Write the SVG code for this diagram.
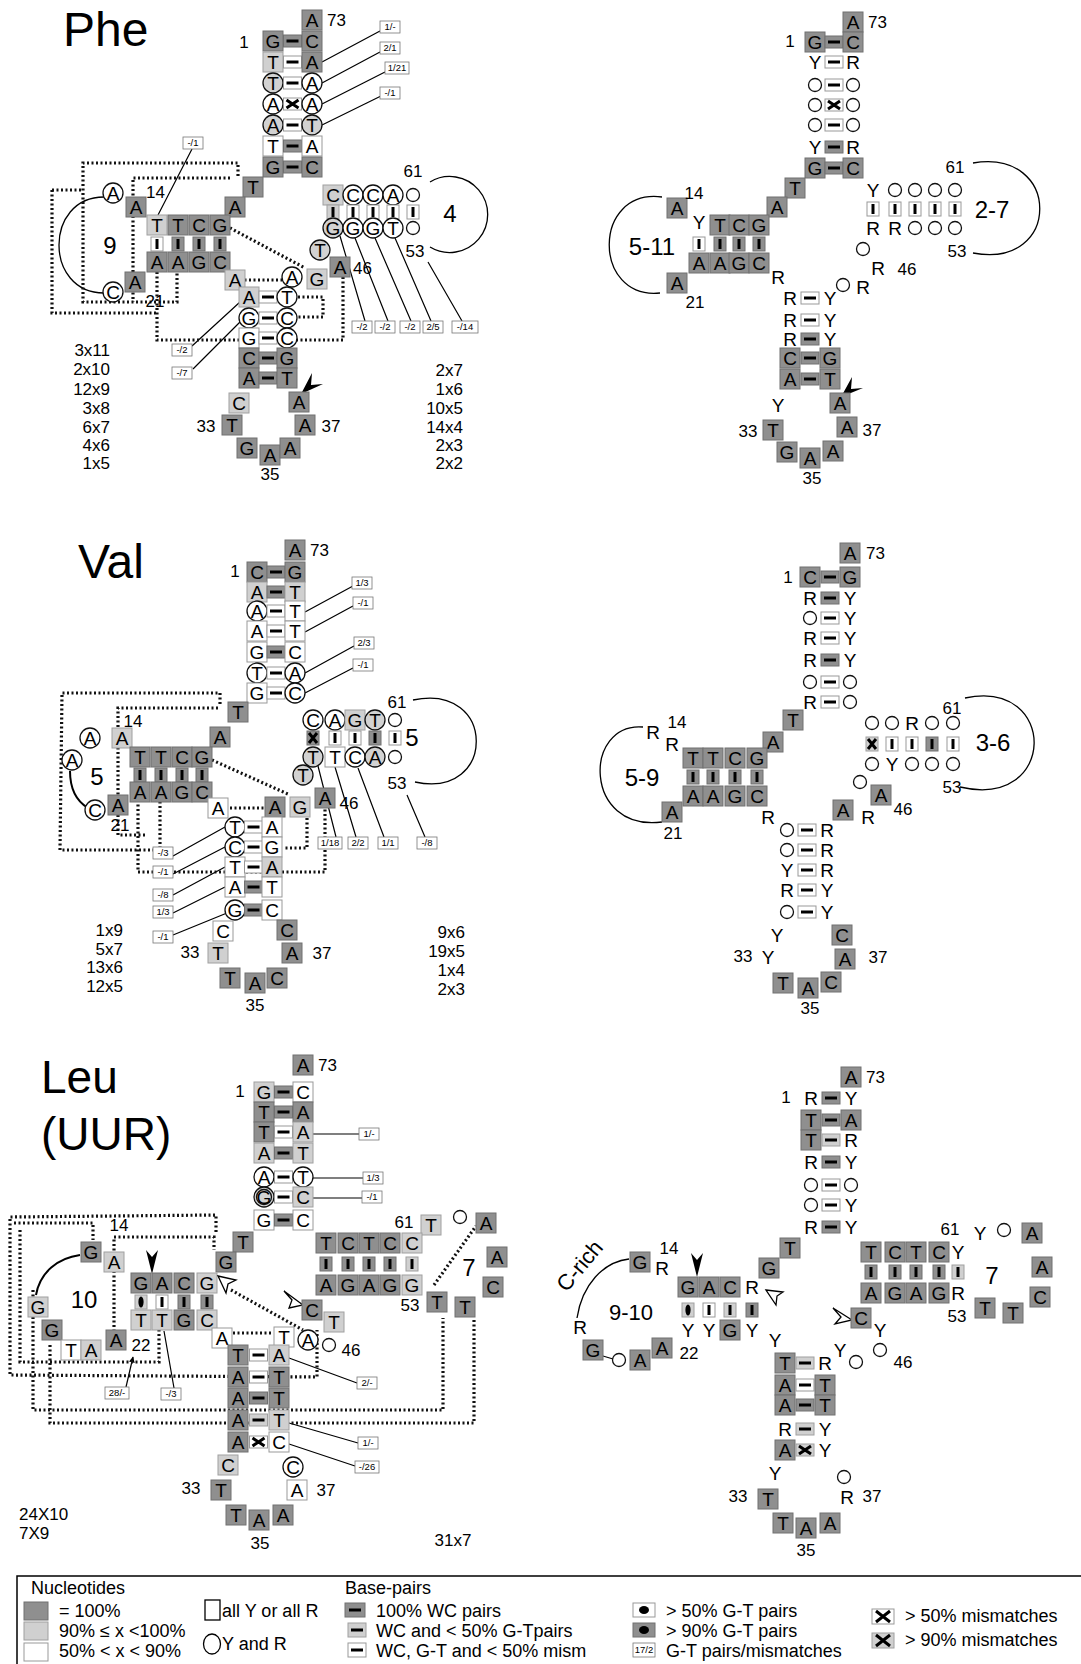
<svg xmlns="http://www.w3.org/2000/svg" width="1081" height="1664" viewBox="0 0 1081 1664">
<style>
text{font-family:"Liberation Sans",Arial,sans-serif;fill:#000}
.t{font-size:48px}
.b{font-size:19px;text-anchor:middle}
.n{font-size:17px}
.nm{font-size:17px;text-anchor:middle}
.ne{font-size:17px;text-anchor:end}
.big{font-size:24px;text-anchor:middle}
.s{font-size:9.5px;text-anchor:middle}
.lg{font-size:18px}
.d{fill:#8f8f8f;stroke:#707070;stroke-width:1}
.l{fill:#d0d0d0;stroke:#a0a0a0;stroke-width:1}
.w{fill:#fff;stroke:#999;stroke-width:1}
.c{fill:#fff;stroke:#111;stroke-width:1.3}
.cl{fill:#d2d2d2;stroke:#111;stroke-width:1.3}
.so{fill:none;stroke:#111;stroke-width:1.3}
.bar{stroke:#000;stroke-width:3;fill:none}
.lb{fill:#fff;stroke:#777;stroke-width:0.8}
.ln{stroke:#000;stroke-width:1.2;fill:none}
.arc{stroke:#000;stroke-width:1.3;fill:none}
.dash{stroke:#111;stroke-width:3.2;fill:none;stroke-dasharray:2 2.5}
.ha{fill:#fff;stroke:#000;stroke-width:1.3}
</style>
<defs>
<rect id="D" class="d" x="-10" y="-10" width="20" height="20"/>
<rect id="L" class="l" x="-10" y="-10" width="20" height="20"/>
<rect id="W" class="w" x="-10" y="-10" width="20" height="20"/>
<circle id="C" class="c" r="10"/>
<circle id="CL" class="cl" r="10"/>
<circle id="o" class="so" r="6.5"/>
<g id="hd"><rect class="d" x="-9" y="-6" width="18" height="12"/><line class="bar" x1="-6" y1="0" x2="6" y2="0"/></g>
<g id="hl"><rect class="l" x="-9" y="-6" width="18" height="12"/><line class="bar" x1="-6" y1="0" x2="6" y2="0"/></g>
<g id="hw"><rect class="w" x="-9" y="-6" width="18" height="12"/><line class="bar" x1="-6" y1="0" x2="6" y2="0"/></g>
<g id="hx"><rect class="w" x="-9" y="-6" width="18" height="12"/><path class="bar" d="M-6,-4L6,4M-6,4L6,-4"/></g>
<g id="hxl"><rect class="l" x="-9" y="-6" width="18" height="12"/><path class="bar" d="M-6,-4L6,4M-6,4L6,-4"/></g>
<g id="vd"><rect class="d" x="-6" y="-7" width="12" height="14"/><line class="bar" x1="0" y1="-5" x2="0" y2="5"/></g>
<g id="vl"><rect class="l" x="-6" y="-7" width="12" height="14"/><line class="bar" x1="0" y1="-5" x2="0" y2="5"/></g>
<g id="vw"><rect class="w" x="-6" y="-7" width="12" height="14"/><line class="bar" x1="0" y1="-5" x2="0" y2="5"/></g>
<g id="vxd"><rect class="d" x="-6" y="-7" width="12" height="14"/><path class="bar" d="M-4,-5L4,5M-4,5L4,-5"/></g>
<g id="vxl"><rect class="l" x="-6" y="-7" width="12" height="14"/><path class="bar" d="M-4,-5L4,5M-4,5L4,-5"/></g>
<g id="vel"><rect class="l" x="-6" y="-7" width="12" height="14"/><ellipse rx="2.6" ry="5.5" fill="#000"/></g>
<marker id="ah" viewBox="0 0 10 10" refX="9" refY="5" markerWidth="5" markerHeight="5" orient="auto"><path d="M0,0L10,5L0,10z"/></marker>
</defs>
<rect width="1081" height="1664" fill="#fff"/>

<!-- ================= PHE LEFT ================= -->
<g id="phe-l">
<text class="t" x="63" y="46">Phe</text>
<g id="phe-l-connectors">
<path class="ln" d="M322,62L380,31M322,83L380,52M322,104L385,72M322,125L381,96M192,149L158,215M192,346L240,302M193,369L240,322M340,236L365,321M355,238L388,321M375,238L411,321M395,238L431,321M428,262L462,321"/>
<path class="arc" d="M430,182A38,38 0 1 1 430,247"/>
<path class="arc" d="M104,197C44,197 44,293 104,293"/>
<path class="dash" d="M52,190L83,190M52,190L52,313L157,313M238,176L238,163L83,163L83,302L177,302L177,272M230,178L133,178L133,302M157,272L157,340L343,340L343,277M240,280L282,280M298,297L323,297L323,317L298,317M230,228L305,268"/>
</g>
<g id="phe-l-acceptor">
<use href="#D" x="312" y="20"/><text class="b" x="312" y="27">A</text>
<text class="n" x="327" y="26">73</text><text class="nm" x="244" y="48">1</text>
<use href="#D" x="273" y="41"/><text class="b" x="273" y="48">G</text><use href="#hd" x="292.5" y="41"/><use href="#D" x="312" y="41"/><text class="b" x="312" y="48">C</text>
<use href="#L" x="273" y="62"/><text class="b" x="273" y="69">T</text><use href="#hw" x="292.5" y="62"/><use href="#D" x="312" y="62"/><text class="b" x="312" y="69">A</text>
<use href="#CL" x="273" y="83"/><text class="b" x="273" y="90">T</text><use href="#hw" x="292.5" y="83"/><use href="#C" x="312" y="83"/><text class="b" x="312" y="90">A</text>
<use href="#C" x="273" y="104"/><text class="b" x="273" y="111">A</text><use href="#hx" x="292.5" y="104"/><use href="#C" x="312" y="104"/><text class="b" x="312" y="111">A</text>
<use href="#CL" x="273" y="125"/><text class="b" x="273" y="132">A</text><use href="#hw" x="292.5" y="125"/><use href="#CL" x="312" y="125"/><text class="b" x="312" y="132">T</text>
<use href="#W" x="273" y="146"/><text class="b" x="273" y="153">T</text><use href="#hd" x="292.5" y="146"/><use href="#W" x="312" y="146"/><text class="b" x="312" y="153">A</text>
<use href="#D" x="273" y="167"/><text class="b" x="273" y="174">G</text><use href="#hd" x="292.5" y="167"/><use href="#D" x="312" y="167"/><text class="b" x="312" y="174">C</text>
</g>
<g id="phe-l-labels">
<rect class="lb" x="380" y="21" width="20" height="12"/><text class="s" x="390" y="30">1/-</text>
<rect class="lb" x="380" y="42" width="20" height="12"/><text class="s" x="390" y="51">2/1</text>
<rect class="lb" x="385" y="62" width="24" height="12"/><text class="s" x="397" y="71">1/21</text>
<rect class="lb" x="380" y="87" width="20" height="12"/><text class="s" x="390" y="96">-/1</text>
<rect class="lb" x="183" y="137" width="20" height="12"/><text class="s" x="193" y="146">-/1</text>
<rect class="lb" x="172" y="344" width="20" height="12"/><text class="s" x="182" y="353">-/2</text>
<rect class="lb" x="172" y="367" width="20" height="12"/><text class="s" x="182" y="376">-/7</text>
<rect class="lb" x="352" y="321" width="20" height="12"/><text class="s" x="362" y="330">-/2</text>
<rect class="lb" x="375" y="321" width="20" height="12"/><text class="s" x="385" y="330">-/2</text>
<rect class="lb" x="400" y="321" width="20" height="12"/><text class="s" x="410" y="330">-/2</text>
<rect class="lb" x="423" y="321" width="20" height="12"/><text class="s" x="433" y="330">2/5</text>
<rect class="lb" x="452" y="321" width="26" height="12"/><text class="s" x="465" y="330">-/14</text>
</g>
<g id="phe-l-d">
<use href="#D" x="253" y="187"/><text class="b" x="253" y="194">T</text>
<use href="#D" x="235" y="207"/><text class="b" x="235" y="214">A</text>
<use href="#L" x="157" y="225"/><text class="b" x="157" y="232">T</text>
<use href="#D" x="178" y="225"/><text class="b" x="178" y="232">T</text>
<use href="#D" x="199" y="225"/><text class="b" x="199" y="232">C</text>
<use href="#D" x="220" y="225"/><text class="b" x="220" y="232">G</text>
<use href="#vw" x="157" y="244"/><use href="#vd" x="178" y="244"/><use href="#vd" x="199" y="244"/><use href="#vd" x="220" y="244"/>
<use href="#D" x="157" y="262"/><text class="b" x="157" y="269">A</text>
<use href="#D" x="178" y="262"/><text class="b" x="178" y="269">A</text>
<use href="#D" x="199" y="262"/><text class="b" x="199" y="269">G</text>
<use href="#D" x="220" y="262"/><text class="b" x="220" y="269">C</text>
<use href="#D" x="136" y="207"/><text class="b" x="136" y="214">A</text><text class="n" x="146" y="198">14</text>
<use href="#C" x="113" y="193"/><text class="b" x="113" y="200">A</text>
<use href="#C" x="113" y="292"/><text class="b" x="113" y="299">C</text>
<use href="#D" x="135" y="282"/><text class="b" x="135" y="289">A</text><text class="nm" x="155" y="307">21</text>
<text class="big" x="110" y="254">9</text>
</g>
<g id="phe-l-t">
<use href="#L" x="333" y="195"/><text class="b" x="333" y="202">C</text>
<use href="#C" x="353" y="195"/><text class="b" x="353" y="202">C</text>
<use href="#C" x="373" y="195"/><text class="b" x="373" y="202">C</text>
<use href="#C" x="393" y="195"/><text class="b" x="393" y="202">A</text>
<use href="#o" x="413" y="195"/>
<use href="#vl" x="333" y="212"/><use href="#vw" x="353" y="212"/><use href="#vw" x="373" y="212"/><use href="#vw" x="393" y="212"/><use href="#vw" x="413" y="212"/>
<use href="#CL" x="333" y="228"/><text class="b" x="333" y="235">G</text>
<use href="#C" x="353" y="228"/><text class="b" x="353" y="235">G</text>
<use href="#C" x="373" y="228"/><text class="b" x="373" y="235">G</text>
<use href="#C" x="393" y="228"/><text class="b" x="393" y="235">T</text>
<use href="#o" x="413" y="228"/>
<text class="nm" x="413" y="177">61</text><text class="nm" x="415" y="257">53</text><text class="big" x="450" y="222">4</text>
<use href="#CL" x="320" y="250"/><text class="b" x="320" y="257">T</text>
<use href="#D" x="340" y="267"/><text class="b" x="340" y="274">A</text><text class="n" x="353" y="274">46</text>
</g>
<g id="phe-l-ac">
<use href="#L" x="235" y="280"/><text class="b" x="235" y="287">A</text>
<use href="#C" x="292" y="277"/><text class="b" x="292" y="284">A</text>
<use href="#L" x="317" y="279"/><text class="b" x="317" y="286">G</text>
<use href="#L" x="249" y="297"/><text class="b" x="249" y="304">A</text><use href="#hw" x="268" y="297"/><use href="#C" x="287" y="297"/><text class="b" x="287" y="304">T</text>
<use href="#C" x="249" y="318"/><text class="b" x="249" y="325">G</text><use href="#hw" x="268" y="318"/><use href="#C" x="287" y="318"/><text class="b" x="287" y="325">C</text>
<use href="#W" x="249" y="338"/><text class="b" x="249" y="345">G</text><use href="#hw" x="268" y="338"/><use href="#C" x="287" y="338"/><text class="b" x="287" y="345">C</text>
<use href="#D" x="249" y="358"/><text class="b" x="249" y="365">C</text><use href="#hd" x="268" y="358"/><use href="#D" x="287" y="358"/><text class="b" x="287" y="365">G</text>
<use href="#D" x="249" y="378"/><text class="b" x="249" y="385">A</text><use href="#hd" x="268" y="378"/><use href="#D" x="287" y="378"/><text class="b" x="287" y="385">T</text>
<polygon points="301,394 312,373 311,385 323,384" fill="#000"/>
<use href="#L" x="239" y="403"/><text class="b" x="239" y="410">C</text>
<use href="#D" x="299" y="402"/><text class="b" x="299" y="409">A</text>
<use href="#D" x="232" y="425"/><text class="b" x="232" y="432">T</text>
<use href="#D" x="305" y="425"/><text class="b" x="305" y="432">A</text>
<use href="#D" x="247" y="448"/><text class="b" x="247" y="455">G</text>
<use href="#D" x="270" y="455"/><text class="b" x="270" y="462">A</text>
<use href="#D" x="290" y="448"/><text class="b" x="290" y="455">A</text>
<text class="nm" x="206" y="432">33</text><text class="nm" x="331" y="432">37</text><text class="nm" x="270" y="480">35</text>
</g>
<g id="phe-l-counts">
<text class="ne" x="110" y="356">3x11</text><text class="ne" x="110" y="375">2x10</text><text class="ne" x="110" y="395">12x9</text><text class="ne" x="110" y="414">3x8</text><text class="ne" x="110" y="433">6x7</text><text class="ne" x="110" y="451">4x6</text><text class="ne" x="110" y="469">1x5</text>
<text class="ne" x="463" y="376">2x7</text><text class="ne" x="463" y="395">1x6</text><text class="ne" x="463" y="414">10x5</text><text class="ne" x="463" y="433">14x4</text><text class="ne" x="463" y="451">2x3</text><text class="ne" x="463" y="469">2x2</text>
</g>
</g>

<!-- ================= PHE RIGHT ================= -->
<g id="phe-r">
<g id="phe-r-connectors">
<path class="arc" d="M973,163C1062,148 1062,270 973,253"/>
<path class="arc" d="M662,197C592,188 592,300 660,293"/>
</g>
<g id="phe-r-acceptor">
<use href="#D" x="853" y="22"/><text class="b" x="853" y="29">A</text><text class="n" x="868" y="28">73</text><text class="nm" x="790" y="47">1</text>
<use href="#D" x="815" y="42"/><text class="b" x="815" y="49">G</text><use href="#hd" x="834" y="42"/><use href="#D" x="853" y="42"/><text class="b" x="853" y="49">C</text>
<text class="b" x="815" y="69">Y</text><use href="#hw" x="834" y="62"/><text class="b" x="853" y="69">R</text>
<use href="#o" x="815" y="85"/><use href="#hw" x="834" y="85"/><use href="#o" x="853" y="85"/>
<use href="#o" x="815" y="105"/><use href="#hx" x="834" y="105"/><use href="#o" x="853" y="105"/>
<use href="#o" x="815" y="125"/><use href="#hw" x="834" y="125"/><use href="#o" x="853" y="125"/>
<text class="b" x="815" y="154">Y</text><use href="#hd" x="834" y="147"/><text class="b" x="853" y="154">R</text>
<use href="#D" x="815" y="168"/><text class="b" x="815" y="175">G</text><use href="#hd" x="834" y="168"/><use href="#D" x="853" y="168"/><text class="b" x="853" y="175">C</text>
</g>
<g id="phe-r-d">
<use href="#D" x="795" y="188"/><text class="b" x="795" y="195">T</text>
<use href="#D" x="777" y="207"/><text class="b" x="777" y="214">A</text>
<use href="#D" x="677" y="208"/><text class="b" x="677" y="215">A</text><text class="nm" x="694" y="199">14</text>
<text class="b" x="699" y="229">Y</text>
<use href="#D" x="720" y="225"/><text class="b" x="720" y="232">T</text>
<use href="#D" x="739" y="225"/><text class="b" x="739" y="232">C</text>
<use href="#D" x="759" y="225"/><text class="b" x="759" y="232">G</text>
<use href="#vw" x="699" y="244"/><use href="#vd" x="720" y="244"/><use href="#vd" x="739" y="244"/><use href="#vd" x="759" y="244"/>
<use href="#D" x="699" y="263"/><text class="b" x="699" y="270">A</text>
<use href="#D" x="720" y="263"/><text class="b" x="720" y="270">A</text>
<use href="#D" x="739" y="263"/><text class="b" x="739" y="270">G</text>
<use href="#D" x="759" y="263"/><text class="b" x="759" y="270">C</text>
<text class="big" x="652" y="255">5-11</text>
<use href="#D" x="677" y="283"/><text class="b" x="677" y="290">A</text><text class="nm" x="695" y="308">21</text>
<text class="b" x="778" y="284">R</text>
</g>
<g id="phe-r-t">
<text class="b" x="873" y="197">Y</text><use href="#o" x="895" y="190"/><use href="#o" x="915" y="190"/><use href="#o" x="935" y="190"/><use href="#o" x="955" y="190"/>
<use href="#vw" x="873" y="209"/><use href="#vw" x="895" y="209"/><use href="#vw" x="915" y="209"/><use href="#vw" x="935" y="209"/><use href="#vw" x="955" y="209"/>
<text class="b" x="873" y="235">R</text><text class="b" x="895" y="235">R</text><use href="#o" x="915" y="228"/><use href="#o" x="935" y="228"/><use href="#o" x="955" y="228"/>
<text class="nm" x="955" y="173">61</text><text class="nm" x="957" y="257">53</text><text class="big" x="992" y="218">2-7</text>
<use href="#o" x="863" y="249"/><text class="b" x="878" y="275">R</text><text class="nm" x="907" y="275">46</text>
<use href="#o" x="843" y="285"/><text class="b" x="863" y="294">R</text>
</g>
<g id="phe-r-ac">
<text class="b" x="790" y="305">R</text><use href="#hw" x="810" y="298"/><text class="b" x="830" y="305">Y</text>
<text class="b" x="790" y="327">R</text><use href="#hw" x="810" y="320"/><text class="b" x="830" y="327">Y</text>
<text class="b" x="790" y="346">R</text><use href="#hd" x="810" y="339"/><text class="b" x="830" y="346">Y</text>
<use href="#D" x="790" y="358"/><text class="b" x="790" y="365">C</text><use href="#hd" x="810" y="358"/><use href="#D" x="830" y="358"/><text class="b" x="830" y="365">G</text>
<use href="#D" x="790" y="379"/><text class="b" x="790" y="386">A</text><use href="#hd" x="810" y="379"/><use href="#D" x="830" y="379"/><text class="b" x="830" y="386">T</text>
<polygon points="841,397 852,377 851,389 863,388" fill="#000"/>
<text class="b" x="778" y="412">Y</text>
<use href="#D" x="840" y="403"/><text class="b" x="840" y="410">A</text>
<use href="#D" x="773" y="430"/><text class="b" x="773" y="437">T</text>
<use href="#D" x="847" y="427"/><text class="b" x="847" y="434">A</text>
<use href="#D" x="787" y="452"/><text class="b" x="787" y="459">G</text>
<use href="#D" x="810" y="458"/><text class="b" x="810" y="465">A</text>
<use href="#D" x="833" y="451"/><text class="b" x="833" y="458">A</text>
<text class="nm" x="748" y="437">33</text><text class="nm" x="872" y="436">37</text><text class="nm" x="812" y="484">35</text>
</g>
</g>

<!-- ================= VAL LEFT ================= -->
<g id="val-l">
<text class="t" x="78" y="578">Val</text>
<g id="val-l-connectors">
<path class="ln" d="M305,612L353,586M305,632L353,606M305,673L354,646M305,693L353,668M173,856L225,827M173,874L225,847M173,895L225,867M173,913L225,887M173,935L227,913M318,766L336,837M335,767L356,837M358,768L384,837M407,795L425,837"/>
<path class="arc" d="M413,700C497,682 497,800 415,782"/>
<path d="M70,771C70,790 78,802 88,808" fill="none" stroke="#000" stroke-width="2"/>
<path class="dash" d="M220,704L220,693L62,693L60,850L160,850L160,800M218,708L118,708L118,835L145,835M138,800L138,872L325,872L325,790M212,760L290,795M230,808L264,808M307,818L307,848L283,848"/>
</g>
<g id="val-l-acceptor">
<use href="#D" x="295" y="550"/><text class="b" x="295" y="557">A</text><text class="n" x="310" y="556">73</text><text class="nm" x="235" y="577">1</text>
<use href="#D" x="257" y="572"/><text class="b" x="257" y="579">C</text><use href="#hd" x="276" y="572"/><use href="#D" x="295" y="572"/><text class="b" x="295" y="579">G</text>
<use href="#L" x="257" y="592"/><text class="b" x="257" y="599">A</text><use href="#hd" x="276" y="592"/><use href="#L" x="295" y="592"/><text class="b" x="295" y="599">T</text>
<use href="#C" x="257" y="611"/><text class="b" x="257" y="618">A</text><use href="#hw" x="276" y="611"/><use href="#W" x="295" y="611"/><text class="b" x="295" y="618">T</text>
<use href="#W" x="257" y="631"/><text class="b" x="257" y="638">A</text><use href="#hw" x="276" y="631"/><use href="#W" x="295" y="631"/><text class="b" x="295" y="638">T</text>
<use href="#W" x="257" y="652"/><text class="b" x="257" y="659">G</text><use href="#hd" x="276" y="652"/><use href="#W" x="295" y="652"/><text class="b" x="295" y="659">C</text>
<use href="#C" x="257" y="673"/><text class="b" x="257" y="680">T</text><use href="#hw" x="276" y="673"/><use href="#C" x="295" y="673"/><text class="b" x="295" y="680">A</text>
<use href="#W" x="257" y="693"/><text class="b" x="257" y="700">G</text><use href="#hw" x="276" y="693"/><use href="#C" x="295" y="693"/><text class="b" x="295" y="700">C</text>
<rect class="lb" x="352" y="577" width="20" height="12"/><text class="s" x="362" y="586">1/3</text>
<rect class="lb" x="353" y="597" width="20" height="12"/><text class="s" x="363" y="606">-/1</text>
<rect class="lb" x="354" y="637" width="20" height="12"/><text class="s" x="364" y="646">2/3</text>
<rect class="lb" x="353" y="659" width="20" height="12"/><text class="s" x="363" y="668">-/1</text>
</g>
<g id="val-l-d">
<use href="#D" x="238" y="712"/><text class="b" x="238" y="719">T</text>
<use href="#D" x="220" y="737"/><text class="b" x="220" y="744">A</text>
<text class="nm" x="133" y="727">14</text>
<use href="#L" x="122" y="738"/><text class="b" x="122" y="745">A</text>
<use href="#C" x="90" y="738"/><text class="b" x="90" y="745">A</text>
<use href="#C" x="72" y="760"/><text class="b" x="72" y="767">A</text>
<text class="big" x="97" y="785">5</text>
<use href="#D" x="140" y="757"/><text class="b" x="140" y="764">T</text>
<use href="#D" x="161" y="757"/><text class="b" x="161" y="764">T</text>
<use href="#D" x="182" y="757"/><text class="b" x="182" y="764">C</text>
<use href="#D" x="202" y="757"/><text class="b" x="202" y="764">G</text>
<use href="#vd" x="140" y="775"/><use href="#vd" x="161" y="775"/><use href="#vd" x="182" y="775"/><use href="#vd" x="202" y="775"/>
<use href="#D" x="140" y="792"/><text class="b" x="140" y="799">A</text>
<use href="#D" x="161" y="792"/><text class="b" x="161" y="799">A</text>
<use href="#D" x="182" y="792"/><text class="b" x="182" y="799">G</text>
<use href="#D" x="202" y="792"/><text class="b" x="202" y="799">C</text>
<use href="#C" x="95" y="810"/><text class="b" x="95" y="817">C</text>
<use href="#D" x="118" y="805"/><text class="b" x="118" y="812">A</text><text class="nm" x="120" y="831">21</text>
</g>
<g id="val-l-t">
<use href="#C" x="313" y="720"/><text class="b" x="313" y="727">C</text>
<use href="#C" x="335" y="720"/><text class="b" x="335" y="727">A</text>
<use href="#L" x="355" y="720"/><text class="b" x="355" y="727">G</text>
<use href="#CL" x="375" y="720"/><text class="b" x="375" y="727">T</text>
<use href="#o" x="395" y="720"/>
<use href="#vxd" x="313" y="738"/><use href="#vw" x="335" y="738"/><use href="#vw" x="355" y="738"/><use href="#vd" x="375" y="738"/><use href="#vw" x="395" y="738"/>
<use href="#CL" x="313" y="757"/><text class="b" x="313" y="764">T</text>
<use href="#W" x="335" y="757"/><text class="b" x="335" y="764">T</text>
<use href="#C" x="355" y="757"/><text class="b" x="355" y="764">C</text>
<use href="#CL" x="375" y="757"/><text class="b" x="375" y="764">A</text>
<use href="#o" x="395" y="757"/>
<text class="nm" x="397" y="708">61</text><text class="big" x="412" y="746">5</text><text class="nm" x="397" y="789">53</text>
<use href="#CL" x="303" y="775"/><text class="b" x="303" y="782">T</text>
<use href="#D" x="325" y="798"/><text class="b" x="325" y="805">A</text><text class="nm" x="349" y="809">46</text>
<rect class="lb" x="318" y="837" width="24" height="12"/><text class="s" x="330" y="846">1/18</text>
<rect class="lb" x="348" y="837" width="20" height="12"/><text class="s" x="358" y="846">2/2</text>
<rect class="lb" x="378" y="837" width="20" height="12"/><text class="s" x="388" y="846">1/1</text>
<rect class="lb" x="417" y="837" width="20" height="12"/><text class="s" x="427" y="846">-/8</text>
</g>
<g id="val-l-ac">
<use href="#W" x="218" y="808"/><text class="b" x="218" y="815">A</text>
<use href="#D" x="275" y="807"/><text class="b" x="275" y="814">A</text>
<use href="#L" x="300" y="807"/><text class="b" x="300" y="814">G</text>
<use href="#C" x="235" y="827"/><text class="b" x="235" y="834">T</text><use href="#hw" x="253.5" y="827"/><use href="#W" x="272" y="827"/><text class="b" x="272" y="834">A</text>
<use href="#C" x="235" y="847"/><text class="b" x="235" y="854">C</text><use href="#hw" x="253.5" y="847"/><use href="#W" x="272" y="847"/><text class="b" x="272" y="854">G</text>
<use href="#W" x="235" y="867"/><text class="b" x="235" y="874">T</text><use href="#hw" x="253.5" y="867"/><use href="#L" x="272" y="867"/><text class="b" x="272" y="874">A</text>
<use href="#W" x="235" y="887"/><text class="b" x="235" y="894">A</text><use href="#hd" x="253.5" y="887"/><use href="#W" x="272" y="887"/><text class="b" x="272" y="894">T</text>
<use href="#C" x="235" y="910"/><text class="b" x="235" y="917">G</text><use href="#hd" x="253.5" y="910"/><use href="#W" x="272" y="910"/><text class="b" x="272" y="917">C</text>
<rect class="lb" x="153" y="847" width="20" height="12"/><text class="s" x="163" y="856">-/3</text>
<rect class="lb" x="153" y="866" width="20" height="12"/><text class="s" x="163" y="875">-/1</text>
<rect class="lb" x="153" y="889" width="20" height="12"/><text class="s" x="163" y="898">-/8</text>
<rect class="lb" x="153" y="906" width="20" height="12"/><text class="s" x="163" y="915">1/3</text>
<rect class="lb" x="153" y="931" width="20" height="12"/><text class="s" x="163" y="940">-/1</text>
<use href="#W" x="223" y="931"/><text class="b" x="223" y="938">C</text>
<use href="#D" x="287" y="930"/><text class="b" x="287" y="937">C</text>
<use href="#L" x="218" y="953"/><text class="b" x="218" y="960">T</text>
<use href="#D" x="292" y="953"/><text class="b" x="292" y="960">A</text>
<use href="#D" x="230" y="978"/><text class="b" x="230" y="985">T</text>
<use href="#D" x="255" y="983"/><text class="b" x="255" y="990">A</text>
<use href="#D" x="277" y="978"/><text class="b" x="277" y="985">C</text>
<text class="nm" x="190" y="958">33</text><text class="nm" x="322" y="959">37</text><text class="nm" x="255" y="1011">35</text>
</g>
<g id="val-l-counts">
<text class="ne" x="123" y="936">1x9</text><text class="ne" x="123" y="955">5x7</text><text class="ne" x="123" y="973">13x6</text><text class="ne" x="123" y="992">12x5</text>
<text class="ne" x="465" y="938">9x6</text><text class="ne" x="465" y="957">19x5</text><text class="ne" x="465" y="976">1x4</text><text class="ne" x="465" y="995">2x3</text>
</g>
</g>

<!-- ================= VAL RIGHT ================= -->
<g id="val-r">
<g id="val-r-connectors">
<path class="arc" d="M965,698C1058,678 1058,810 960,787"/>
<path class="arc" d="M643,727C583,722 583,832 662,822"/>
</g>
<g id="val-r-acceptor">
<use href="#D" x="850" y="553"/><text class="b" x="850" y="560">A</text><text class="n" x="866" y="559">73</text><text class="nm" x="788" y="583">1</text>
<use href="#D" x="810" y="577"/><text class="b" x="810" y="584">C</text><use href="#hd" x="830" y="577"/><use href="#D" x="850" y="577"/><text class="b" x="850" y="584">G</text>
<text class="b" x="810" y="605">R</text><use href="#hd" x="830" y="598"/><text class="b" x="850" y="605">Y</text>
<use href="#o" x="810" y="618"/><use href="#hw" x="830" y="618"/><text class="b" x="850" y="625">Y</text>
<text class="b" x="810" y="645">R</text><use href="#hw" x="830" y="638"/><text class="b" x="850" y="645">Y</text>
<text class="b" x="810" y="667">R</text><use href="#hd" x="830" y="660"/><text class="b" x="850" y="667">Y</text>
<use href="#o" x="810" y="682"/><use href="#hw" x="830" y="682"/><use href="#o" x="850" y="682"/>
<text class="b" x="810" y="709">R</text><use href="#hw" x="830" y="702"/><use href="#o" x="850" y="702"/>
</g>
<g id="val-r-d">
<use href="#D" x="793" y="720"/><text class="b" x="793" y="727">T</text>
<use href="#D" x="773" y="742"/><text class="b" x="773" y="749">A</text>
<text class="b" x="653" y="739">R</text><text class="nm" x="677" y="728">14</text><text class="b" x="672" y="751">R</text>
<use href="#D" x="693" y="758"/><text class="b" x="693" y="765">T</text>
<use href="#D" x="713" y="758"/><text class="b" x="713" y="765">T</text>
<use href="#D" x="735" y="758"/><text class="b" x="735" y="765">C</text>
<use href="#D" x="757" y="758"/><text class="b" x="757" y="765">G</text>
<use href="#vd" x="693" y="777"/><use href="#vd" x="713" y="777"/><use href="#vd" x="735" y="777"/><use href="#vd" x="757" y="777"/>
<use href="#D" x="693" y="796"/><text class="b" x="693" y="803">A</text>
<use href="#D" x="713" y="796"/><text class="b" x="713" y="803">A</text>
<use href="#D" x="735" y="796"/><text class="b" x="735" y="803">G</text>
<use href="#D" x="757" y="796"/><text class="b" x="757" y="803">C</text>
<text class="big" x="642" y="786">5-9</text>
<use href="#D" x="672" y="812"/><text class="b" x="672" y="819">A</text><text class="nm" x="673" y="839">21</text>
<text class="b" x="768" y="824">R</text>
</g>
<g id="val-r-t">
<use href="#o" x="872" y="723"/><use href="#o" x="892" y="723"/><text class="b" x="912" y="730">R</text><use href="#o" x="932" y="723"/><use href="#o" x="953" y="723"/>
<use href="#vxl" x="872" y="744"/><use href="#vw" x="892" y="744"/><use href="#vw" x="912" y="744"/><use href="#vd" x="932" y="744"/><use href="#vw" x="953" y="744"/>
<use href="#o" x="872" y="764"/><text class="b" x="892" y="771">Y</text><use href="#o" x="912" y="764"/><use href="#o" x="932" y="764"/><use href="#o" x="953" y="764"/>
<text class="nm" x="952" y="714">61</text><text class="nm" x="952" y="793">53</text><text class="big" x="993" y="751">3-6</text>
<use href="#o" x="860" y="782"/>
<use href="#D" x="881" y="795"/><text class="b" x="881" y="802">A</text><text class="nm" x="903" y="815">46</text>
<use href="#D" x="843" y="810"/><text class="b" x="843" y="817">A</text><text class="b" x="868" y="824">R</text>
</g>
<g id="val-r-ac">
<use href="#o" x="787" y="830"/><use href="#hw" x="807" y="830"/><text class="b" x="827" y="837">R</text>
<use href="#o" x="787" y="850"/><use href="#hw" x="807" y="850"/><text class="b" x="827" y="857">R</text>
<text class="b" x="787" y="877">Y</text><use href="#hw" x="807" y="870"/><text class="b" x="827" y="877">R</text>
<text class="b" x="787" y="897">R</text><use href="#hw" x="807" y="890"/><text class="b" x="827" y="897">Y</text>
<use href="#o" x="787" y="912"/><use href="#hw" x="807" y="912"/><text class="b" x="827" y="919">Y</text>
<text class="b" x="777" y="942">Y</text>
<use href="#D" x="842" y="935"/><text class="b" x="842" y="942">C</text>
<text class="b" x="768" y="964">Y</text>
<use href="#D" x="845" y="959"/><text class="b" x="845" y="966">A</text>
<use href="#D" x="783" y="983"/><text class="b" x="783" y="990">T</text>
<use href="#D" x="808" y="988"/><text class="b" x="808" y="995">A</text>
<use href="#D" x="831" y="982"/><text class="b" x="831" y="989">C</text>
<text class="nm" x="743" y="962">33</text><text class="nm" x="878" y="963">37</text><text class="nm" x="810" y="1014">35</text>
</g>
</g>

<!-- ================= LEU LEFT ================= -->
<g id="leu-l">
<text x="41" y="1093" font-size="46">Leu</text>
<text x="41" y="1150" font-size="46">(UUR)</text>
<g id="leu-l-connectors">
<path class="ln" d="M313,1134L359,1134M313,1178L363,1178M313,1198L362,1198M289,1358L357,1383M289,1423L358,1443M289,1444L355,1466M174,1388L164,1331"/>
<line class="ln" x1="126" y1="1387" x2="133" y2="1357" marker-end="url(#ah)"/>
<path d="M80,1255C58,1258 40,1272 36,1295" fill="none" stroke="#000" stroke-width="2"/>
<path class="dash" d="M216,1232L216,1215L10,1217L10,1375L317,1377L317,1330M14,1223L93,1223L93,1240M114,1345L114,1237L214,1237L214,1250M33,1290L33,1410L443,1410L443,1318M50,1345L50,1423L474,1423L474,1318M20,1230L20,1362L159,1362L159,1325M233,1333L273,1333M434,1285L476,1226M231,1290L303,1330"/>
</g>
<g id="leu-l-acceptor">
<use href="#D" x="303" y="1065"/><text class="b" x="303" y="1072">A</text><text class="n" x="318" y="1071">73</text><text class="nm" x="240" y="1097">1</text>
<use href="#L" x="264" y="1092"/><text class="b" x="264" y="1099">G</text><use href="#hd" x="283.5" y="1092"/><use href="#W" x="303" y="1092"/><text class="b" x="303" y="1099">C</text>
<use href="#D" x="264" y="1112"/><text class="b" x="264" y="1119">T</text><use href="#hd" x="283.5" y="1112"/><use href="#D" x="303" y="1112"/><text class="b" x="303" y="1119">A</text>
<use href="#D" x="264" y="1132"/><text class="b" x="264" y="1139">T</text><use href="#hw" x="283.5" y="1132"/><use href="#L" x="303" y="1132"/><text class="b" x="303" y="1139">A</text>
<use href="#L" x="264" y="1153"/><text class="b" x="264" y="1160">A</text><use href="#hd" x="283.5" y="1153"/><use href="#L" x="303" y="1153"/><text class="b" x="303" y="1160">T</text>
<use href="#C" x="264" y="1177"/><text class="b" x="264" y="1184">A</text><use href="#hw" x="283.5" y="1177"/><use href="#C" x="303" y="1177"/><text class="b" x="303" y="1184">T</text>
<use href="#CL" x="264" y="1197"/><circle cx="264" cy="1197" r="7.5" class="so"/><text class="b" x="264" y="1204">G</text><use href="#hw" x="283.5" y="1197"/><use href="#L" x="303" y="1197"/><text class="b" x="303" y="1204">C</text>
<use href="#W" x="264" y="1220"/><text class="b" x="264" y="1227">G</text><use href="#hd" x="283.5" y="1220"/><use href="#W" x="303" y="1220"/><text class="b" x="303" y="1227">C</text>
<rect class="lb" x="359" y="1128" width="20" height="12"/><text class="s" x="369" y="1137">1/-</text>
<rect class="lb" x="363" y="1172" width="20" height="12"/><text class="s" x="373" y="1181">1/3</text>
<rect class="lb" x="362" y="1191" width="20" height="12"/><text class="s" x="372" y="1200">-/1</text>
</g>
<g id="leu-l-t">
<text class="nm" x="404" y="1228">61</text>
<use href="#L" x="431" y="1225"/><text class="b" x="431" y="1232">T</text>
<use href="#o" x="460" y="1217"/>
<use href="#D" x="486" y="1223"/><text class="b" x="486" y="1230">A</text>
<use href="#D" x="497" y="1257"/><text class="b" x="497" y="1264">A</text>
<text class="big" x="469" y="1276">7</text>
<use href="#D" x="493" y="1287"/><text class="b" x="493" y="1294">C</text>
<use href="#D" x="465" y="1307"/><text class="b" x="465" y="1314">T</text>
<use href="#D" x="437" y="1302"/><text class="b" x="437" y="1309">T</text>
<text class="nm" x="410" y="1311">53</text>
<use href="#D" x="326" y="1243"/><text class="b" x="326" y="1250">T</text>
<use href="#D" x="348" y="1243"/><text class="b" x="348" y="1250">C</text>
<use href="#D" x="369" y="1243"/><text class="b" x="369" y="1250">T</text>
<use href="#D" x="390" y="1243"/><text class="b" x="390" y="1250">C</text>
<use href="#L" x="412" y="1243"/><text class="b" x="412" y="1250">C</text>
<use href="#vd" x="326" y="1264"/><use href="#vd" x="348" y="1264"/><use href="#vd" x="369" y="1264"/><use href="#vd" x="390" y="1264"/><use href="#vl" x="412" y="1264"/>
<use href="#D" x="326" y="1285"/><text class="b" x="326" y="1292">A</text>
<use href="#D" x="348" y="1285"/><text class="b" x="348" y="1292">G</text>
<use href="#D" x="369" y="1285"/><text class="b" x="369" y="1292">A</text>
<use href="#D" x="390" y="1285"/><text class="b" x="390" y="1292">G</text>
<use href="#L" x="412" y="1285"/><text class="b" x="412" y="1292">G</text>
</g>
<g id="leu-l-d">
<use href="#D" x="243" y="1242"/><text class="b" x="243" y="1249">T</text>
<use href="#D" x="226" y="1262"/><text class="b" x="226" y="1269">G</text>
<text class="nm" x="119" y="1231">14</text>
<use href="#D" x="91" y="1252"/><text class="b" x="91" y="1259">G</text>
<use href="#L" x="114" y="1262"/><text class="b" x="114" y="1269">A</text>
<polygon points="152,1274 146,1250 152,1257 158,1250" fill="#000"/>
<use href="#D" x="141" y="1283"/><text class="b" x="141" y="1290">G</text>
<use href="#D" x="162" y="1283"/><text class="b" x="162" y="1290">A</text>
<use href="#D" x="184" y="1283"/><text class="b" x="184" y="1290">C</text>
<use href="#L" x="207" y="1283"/><text class="b" x="207" y="1290">G</text>
<use href="#vel" x="141" y="1302"/><use href="#vw" x="162" y="1302"/><use href="#vd" x="184" y="1302"/><use href="#vd" x="207" y="1302"/>
<use href="#L" x="141" y="1320"/><text class="b" x="141" y="1327">T</text>
<use href="#L" x="162" y="1320"/><text class="b" x="162" y="1327">T</text>
<use href="#D" x="184" y="1320"/><text class="b" x="184" y="1327">G</text>
<use href="#L" x="207" y="1320"/><text class="b" x="207" y="1327">C</text>
<polygon class="ha" points="218,1276 236,1280 228,1284 226,1293"/>
<polygon class="ha" points="303,1305 284,1291 292,1300 289,1308"/>
<use href="#D" x="312" y="1310"/><text class="b" x="312" y="1317">C</text>
<use href="#L" x="334" y="1322"/><text class="b" x="334" y="1329">T</text>
<text class="big" x="84" y="1308">10</text>
<use href="#L" x="38" y="1307"/><text class="b" x="38" y="1314">G</text>
<use href="#D" x="52" y="1330"/><text class="b" x="52" y="1337">G</text>
<use href="#W" x="71" y="1350"/><text class="b" x="71" y="1357">T</text>
<use href="#L" x="91" y="1350"/><text class="b" x="91" y="1357">A</text>
<use href="#D" x="116" y="1340"/><text class="b" x="116" y="1347">A</text>
<text class="nm" x="141" y="1351">22</text>
<rect class="lb" x="105" y="1387" width="24" height="12"/><text class="s" x="117" y="1396">28/-</text>
<rect class="lb" x="161" y="1388" width="20" height="12"/><text class="s" x="171" y="1397">-/3</text>
</g>
<g id="leu-l-ac">
<use href="#W" x="222" y="1338"/><text class="b" x="222" y="1345">A</text>
<use href="#W" x="284" y="1337"/><text class="b" x="284" y="1344">T</text>
<use href="#C" x="308" y="1340"/><text class="b" x="308" y="1347">A</text>
<use href="#o" x="329" y="1345"/><text class="nm" x="351" y="1356">46</text>
<use href="#D" x="238" y="1355"/><text class="b" x="238" y="1362">T</text><use href="#hw" x="258.5" y="1355"/><use href="#L" x="279" y="1355"/><text class="b" x="279" y="1362">A</text>
<use href="#D" x="238" y="1377"/><text class="b" x="238" y="1384">A</text><use href="#hw" x="258.5" y="1377"/><use href="#D" x="279" y="1377"/><text class="b" x="279" y="1384">T</text>
<use href="#D" x="238" y="1398"/><text class="b" x="238" y="1405">A</text><use href="#hd" x="258.5" y="1398"/><use href="#D" x="279" y="1398"/><text class="b" x="279" y="1405">T</text>
<use href="#D" x="238" y="1420"/><text class="b" x="238" y="1427">A</text><use href="#hl" x="258.5" y="1420"/><use href="#L" x="279" y="1420"/><text class="b" x="279" y="1427">T</text>
<use href="#D" x="238" y="1442"/><text class="b" x="238" y="1449">A</text><use href="#hx" x="258.5" y="1442"/><use href="#W" x="279" y="1442"/><text class="b" x="279" y="1449">C</text>
<rect class="lb" x="357" y="1377" width="20" height="12"/><text class="s" x="367" y="1386">2/-</text>
<rect class="lb" x="358" y="1437" width="20" height="12"/><text class="s" x="368" y="1446">1/-</text>
<rect class="lb" x="355" y="1461" width="24" height="12"/><text class="s" x="367" y="1470">-/26</text>
<use href="#L" x="228" y="1465"/><text class="b" x="228" y="1472">C</text>
<use href="#C" x="293" y="1467"/><text class="b" x="293" y="1474">C</text>
<use href="#D" x="221" y="1490"/><text class="b" x="221" y="1497">T</text>
<use href="#W" x="297" y="1490"/><text class="b" x="297" y="1497">A</text>
<use href="#D" x="236" y="1515"/><text class="b" x="236" y="1522">T</text>
<use href="#D" x="259" y="1520"/><text class="b" x="259" y="1527">A</text>
<use href="#D" x="283" y="1515"/><text class="b" x="283" y="1522">A</text>
<text class="nm" x="191" y="1494">33</text><text class="nm" x="326" y="1496">37</text><text class="nm" x="260" y="1549">35</text>
</g>
<g id="leu-l-counts">
<text class="n" x="19" y="1520">24X10</text><text class="n" x="19" y="1539">7X9</text><text class="nm" x="453" y="1546">31x7</text>
</g>
</g>

<!-- ================= LEU RIGHT ================= -->
<g id="leu-r">
<g id="leu-r-connectors">
<path class="arc" d="M629,1259C603,1262 582,1285 577,1318"/>
<line class="ln" x1="603" y1="1356" x2="613" y2="1359"/>
</g>
<g id="leu-r-acceptor">
<use href="#D" x="851" y="1077"/><text class="b" x="851" y="1084">A</text><text class="n" x="866" y="1083">73</text><text class="nm" x="786" y="1103">1</text>
<text class="b" x="811" y="1105">R</text><use href="#hd" x="831" y="1098"/><text class="b" x="851" y="1105">Y</text>
<use href="#D" x="811" y="1120"/><text class="b" x="811" y="1127">T</text><use href="#hd" x="831" y="1120"/><use href="#D" x="851" y="1120"/><text class="b" x="851" y="1127">A</text>
<use href="#D" x="811" y="1140"/><text class="b" x="811" y="1147">T</text><use href="#hl" x="831" y="1140"/><text class="b" x="851" y="1147">R</text>
<text class="b" x="811" y="1169">R</text><use href="#hd" x="831" y="1162"/><text class="b" x="851" y="1169">Y</text>
<use href="#o" x="811" y="1185"/><use href="#hw" x="831" y="1185"/><use href="#o" x="851" y="1185"/>
<use href="#o" x="811" y="1205"/><use href="#hw" x="831" y="1205"/><text class="b" x="851" y="1212">Y</text>
<text class="b" x="811" y="1234">R</text><use href="#hd" x="831" y="1227"/><text class="b" x="851" y="1234">Y</text>
</g>
<g id="leu-r-t">
<use href="#D" x="790" y="1248"/><text class="b" x="790" y="1255">T</text>
<use href="#D" x="769" y="1268"/><text class="b" x="769" y="1275">G</text>
<text class="nm" x="950" y="1235">61</text><text class="b" x="980" y="1240">Y</text><use href="#o" x="1004" y="1230"/>
<use href="#D" x="1032" y="1233"/><text class="b" x="1032" y="1240">A</text>
<use href="#D" x="871" y="1252"/><text class="b" x="871" y="1259">T</text>
<use href="#D" x="895" y="1252"/><text class="b" x="895" y="1259">C</text>
<use href="#D" x="916" y="1252"/><text class="b" x="916" y="1259">T</text>
<use href="#D" x="939" y="1252"/><text class="b" x="939" y="1259">C</text>
<text class="b" x="958" y="1259">Y</text>
<use href="#vd" x="871" y="1272"/><use href="#vd" x="895" y="1272"/><use href="#vd" x="916" y="1272"/><use href="#vd" x="939" y="1272"/><use href="#vl" x="958" y="1272"/>
<use href="#D" x="871" y="1293"/><text class="b" x="871" y="1300">A</text>
<use href="#D" x="895" y="1293"/><text class="b" x="895" y="1300">G</text>
<use href="#D" x="916" y="1293"/><text class="b" x="916" y="1300">A</text>
<use href="#D" x="939" y="1293"/><text class="b" x="939" y="1300">G</text>
<text class="b" x="958" y="1300">R</text>
<use href="#D" x="1042" y="1267"/><text class="b" x="1042" y="1274">A</text>
<text class="big" x="992" y="1284">7</text>
<use href="#D" x="1040" y="1297"/><text class="b" x="1040" y="1304">C</text>
<use href="#D" x="1013" y="1313"/><text class="b" x="1013" y="1320">T</text>
<use href="#D" x="985" y="1308"/><text class="b" x="985" y="1315">T</text>
<text class="nm" x="957" y="1322">53</text>
</g>
<g id="leu-r-d">
<text font-size="22" text-anchor="middle" x="580" y="1273" transform="rotate(-50 580 1266)">C-rich</text>
<use href="#D" x="640" y="1262"/><text class="b" x="640" y="1269">G</text>
<text class="nm" x="669" y="1254">14</text><text class="b" x="662" y="1275">R</text>
<polygon points="697,1277 691,1253 697,1260 703,1253" fill="#000"/>
<text font-size="22" text-anchor="middle" x="631" y="1320">9-10</text>
<text class="b" x="580" y="1334">R</text>
<use href="#D" x="688" y="1287"/><text class="b" x="688" y="1294">G</text>
<use href="#D" x="709" y="1287"/><text class="b" x="709" y="1294">A</text>
<use href="#D" x="730" y="1287"/><text class="b" x="730" y="1294">C</text>
<text class="b" x="752" y="1294">R</text>
<use href="#vel" x="688" y="1310"/><use href="#vw" x="709" y="1310"/><use href="#vl" x="730" y="1310"/><use href="#vd" x="752" y="1310"/>
<text class="b" x="688" y="1337">Y</text><text class="b" x="709" y="1337">Y</text>
<use href="#D" x="730" y="1330"/><text class="b" x="730" y="1337">G</text>
<text class="b" x="752" y="1337">Y</text>
<polygon class="ha" points="766,1290 783,1292 777,1296 776,1305"/>
<polygon class="ha" points="852,1320 833,1308 841,1317 835,1324"/>
<use href="#D" x="861" y="1318"/><text class="b" x="861" y="1325">C</text>
<text class="b" x="880" y="1337">Y</text>
<use href="#D" x="593" y="1350"/><text class="b" x="593" y="1357">G</text>
<use href="#o" x="619" y="1360"/>
<use href="#D" x="640" y="1360"/><text class="b" x="640" y="1367">A</text>
<use href="#D" x="662" y="1348"/><text class="b" x="662" y="1355">A</text>
<text class="nm" x="689" y="1359">22</text>
</g>
<g id="leu-r-ac">
<text class="b" x="775" y="1347">Y</text>
<use href="#D" x="785" y="1363"/><text class="b" x="785" y="1370">T</text><use href="#hl" x="805" y="1363"/><text class="b" x="825" y="1370">R</text>
<use href="#D" x="785" y="1385"/><text class="b" x="785" y="1392">A</text><use href="#hw" x="805" y="1385"/><use href="#D" x="825" y="1385"/><text class="b" x="825" y="1392">T</text>
<use href="#D" x="785" y="1405"/><text class="b" x="785" y="1412">A</text><use href="#hd" x="805" y="1405"/><use href="#D" x="825" y="1405"/><text class="b" x="825" y="1412">T</text>
<text class="b" x="785" y="1436">R</text><use href="#hl" x="805" y="1429"/><text class="b" x="825" y="1436">Y</text>
<use href="#D" x="785" y="1450"/><text class="b" x="785" y="1457">A</text><use href="#hxl" x="805" y="1450"/><text class="b" x="825" y="1457">Y</text>
<text class="b" x="840" y="1357">Y</text><use href="#o" x="856" y="1362"/><use href="#o" x="880" y="1350"/><text class="nm" x="903" y="1368">46</text>
<text class="b" x="775" y="1480">Y</text><use href="#o" x="844" y="1477"/>
<text class="nm" x="738" y="1502">33</text>
<use href="#D" x="768" y="1499"/><text class="b" x="768" y="1506">T</text>
<text class="b" x="847" y="1504">R</text><text class="nm" x="872" y="1502">37</text>
<use href="#D" x="783" y="1523"/><text class="b" x="783" y="1530">T</text>
<use href="#D" x="806" y="1528"/><text class="b" x="806" y="1535">A</text>
<use href="#D" x="830" y="1523"/><text class="b" x="830" y="1530">A</text>
<text class="nm" x="806" y="1556">35</text>
</g>
</g>

<!-- ================= LEGEND ================= -->
<g id="legend">
<rect x="17" y="1576" width="1080" height="100" fill="none" stroke="#000" stroke-width="1.5"/>
<text class="lg" x="31" y="1594">Nucleotides</text>
<rect class="d" x="24" y="1602" width="24" height="18"/><text class="lg" x="59" y="1617">= 100%</text>
<rect class="l" x="24" y="1622" width="24" height="18"/><text class="lg" x="59" y="1637">90% ≤ x &lt;100%</text>
<rect class="w" x="24" y="1643" width="24" height="18"/><text class="lg" x="59" y="1657">50% &lt; x &lt; 90%</text>
<rect x="205" y="1600" width="15" height="20" fill="none" stroke="#000" stroke-width="1.3"/><text class="lg" x="222" y="1617">all Y or all R</text>
<ellipse cx="212" cy="1644" rx="8.5" ry="10" fill="none" stroke="#000" stroke-width="1.3"/><text class="lg" x="222" y="1650">Y and R</text>
<text class="lg" x="345" y="1594">Base-pairs</text>
<rect class="d" x="345" y="1603" width="20" height="14"/><line class="bar" x1="349" y1="1610" x2="361" y2="1610"/><text class="lg" x="376" y="1617">100% WC pairs</text>
<rect class="l" x="348" y="1623" width="18" height="14"/><line class="bar" x1="351" y1="1630" x2="363" y2="1630"/><text class="lg" x="376" y="1637">WC and &lt; 50% G-Tpairs</text>
<rect class="w" x="348" y="1643" width="18" height="14"/><line class="bar" x1="351" y1="1650" x2="363" y2="1650"/><text class="lg" x="376" y="1657">WC, G-T and &lt; 50% mism</text>
<rect class="w" x="633" y="1603" width="22" height="14"/><ellipse cx="644" cy="1610" rx="5" ry="4" fill="#000"/><text class="lg" x="666" y="1617">&gt; 50% G-T pairs</text>
<rect class="d" x="633" y="1623" width="22" height="14"/><ellipse cx="644" cy="1630" rx="5" ry="4" fill="#000"/><text class="lg" x="666" y="1637">&gt; 90% G-T pairs</text>
<rect class="lb" x="633" y="1643" width="22" height="14"/><text class="s" x="644" y="1653">17/2</text><text class="lg" x="666" y="1657">G-T pairs/mismatches</text>
<rect class="w" x="872" y="1609" width="22" height="15"/><path class="bar" d="M876,1611L890,1622M876,1622L890,1611"/><text class="lg" x="905" y="1622">&gt; 50% mismatches</text>
<rect class="l" x="872" y="1633" width="22" height="15"/><path class="bar" d="M876,1635L890,1646M876,1646L890,1635"/><text class="lg" x="905" y="1646">&gt; 90% mismatches</text>
</g>
</svg>
